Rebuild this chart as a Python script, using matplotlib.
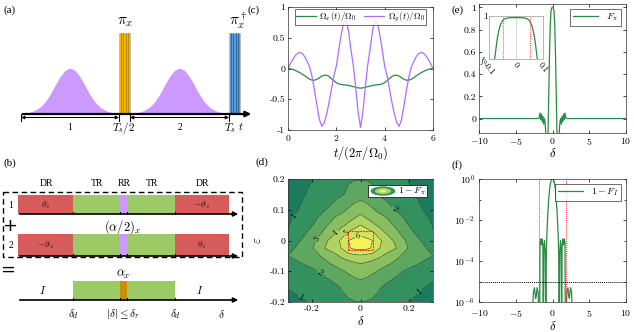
import numpy as np
import matplotlib
matplotlib.use('Agg')
import matplotlib.pyplot as plt
from matplotlib.patches import Rectangle, Ellipse

plt.rcParams['font.family'] = 'serif'
plt.rcParams['font.serif'] = ['cmr10', 'DejaVu Serif']
plt.rcParams['mathtext.fontset'] = 'cm'
plt.rcParams['axes.formatter.use_mathtext'] = True

# ---------------- data ----------------
# (c) control fields
t_grid = [0.0, 0.1, 0.2, 0.3, 0.4, 0.5, 0.6, 0.7, 0.8, 0.9, 1.0, 1.1, 1.2, 1.3, 1.4, 1.5,
          1.6, 1.7, 1.8, 1.9, 2.0, 2.1, 2.2, 2.3, 2.4, 2.5, 2.6, 2.7, 2.8, 2.9, 3.0,
          3.1, 3.2, 3.3, 3.4, 3.5, 3.6, 3.7, 3.8, 3.9, 4.0, 4.1, 4.2, 4.3, 4.4, 4.5,
          4.6, 4.7, 4.8, 4.9, 5.0, 5.1, 5.2, 5.3, 5.4, 5.5, 5.6, 5.7, 5.8, 5.9, 6.0]
omega_y = [0.0, 0.08, 0.15, 0.21, 0.25, 0.26, 0.24, 0.19, 0.11, 0.02, -0.14, -0.36, -0.6, -0.83, -0.94, -0.88,
           -0.74, -0.55, -0.33, -0.12, 0.04, 0.3, 0.55, 0.74, 0.78, 0.62, 0.32, 0.06, -0.3, -0.7, -0.96,
           -0.7, -0.3, 0.06, 0.32, 0.62, 0.78, 0.74, 0.55, 0.3, 0.04, -0.12, -0.33, -0.55, -0.74, -0.88,
           -0.94, -0.83, -0.6, -0.36, -0.14, 0.02, 0.11, 0.19, 0.24, 0.26, 0.25, 0.21, 0.15, 0.08, 0.0]
omega_x = [0.0, -0.005, -0.015, -0.03, -0.05, -0.07, -0.095, -0.12, -0.15, -0.175, -0.19, -0.19, -0.175, -0.15, -0.125, -0.11,
           -0.11, -0.13, -0.165, -0.2, -0.23, -0.25, -0.26, -0.265, -0.27, -0.275, -0.285, -0.295, -0.305, -0.315, -0.32,
           -0.315, -0.305, -0.295, -0.285, -0.275, -0.27, -0.265, -0.26, -0.25, -0.23, -0.2, -0.165, -0.13, -0.11, -0.11,
           -0.125, -0.15, -0.175, -0.19, -0.19, -0.175, -0.15, -0.12, -0.095, -0.07, -0.05, -0.03, -0.015, -0.005, 0.0]

# (e) F_pi versus detuning
fpi_delta = [-10, -2.0, -1.8, -1.7, -1.6, -1.5, -1.4, -1.3, -1.2, -1.1, -1.0, -0.9, -0.8, -0.7, -0.6, -0.5,
             -0.4, -0.3, -0.2, -0.1, 0.0, 0.1, 0.2, 0.3, 0.4, 0.5, 0.6, 0.7, 0.8, 0.9, 1.0, 1.1,
             1.2, 1.3, 1.4, 1.5, 1.6, 1.7, 1.8, 2.0, 10]
fpi_value = [0.0, 0.0, 0.005, 0.05, -0.01, 0.04, -0.03, 0.02, -0.05, 0.0, -0.04, -0.15, -0.3, -0.35, -0.1, 0.25,
             0.6, 0.85, 0.97, 0.995, 1.0, 0.995, 0.97, 0.85, 0.6, 0.25, -0.1, -0.35, -0.3, -0.15, -0.04, 0.0,
             -0.05, 0.02, -0.03, 0.04, -0.01, 0.05, 0.005, 0.0, 0.0]
inset_delta = [-0.085, -0.08, -0.075, -0.07, -0.065, -0.06, -0.055, -0.05, -0.045, -0.04, -0.03, -0.02, -0.01,
               0.0, 0.01, 0.02, 0.03, 0.04, 0.045, 0.05, 0.055, 0.06, 0.065, 0.07, 0.075, 0.08, 0.085]
inset_value = [0.9880, 0.9895, 0.9920, 0.9945, 0.9962, 0.9975, 0.9983, 0.9989, 0.9992, 0.9994, 0.99955, 0.9996,
               0.99962, 0.99962, 0.99962, 0.9996, 0.99955, 0.9994, 0.9992, 0.9989, 0.9983, 0.9975, 0.9962,
               0.9945, 0.9920, 0.9895, 0.9880]

# (f) 1 - F_I (log scale)
fi_delta = [-10, -2.85, -2.75, -2.6, -2.45, -2.3, -2.2, -2.1, -1.95, -1.85, -1.75, -1.7, -1.6, -1.5, -1.4,
            -1.3, -1.25, -1.2, -1.1, -1.0, -0.9, -0.85, -0.8, -0.7, -0.6, -0.5, -0.4, -0.3, -0.2, -0.1,
            0.0, 0.1, 0.2, 0.3, 0.4, 0.5, 0.6, 0.7, 0.8, 0.85, 0.9, 1.0, 1.1, 1.2, 1.25, 1.3, 1.4,
            1.5, 1.6, 1.7, 1.75, 1.85, 1.95, 2.1, 2.2, 2.3, 2.45, 2.6, 2.75, 2.85, 10]
fi_value = [1e-9, 1e-9, 1e-7, 3e-6, 5e-6, 1.5e-6, 2e-6, 5e-6, 3e-6, 1e-7, 1e-8, 8e-4, 1.2e-3, 6e-4, 1.2e-3,
            5e-4, 1e-8, 2e-4, 1e-3, 3e-4, 1e-8, 1e-4, 1e-3, 7e-3, 0.035, 0.12, 0.3, 0.55, 0.8, 0.95,
            1.0, 0.95, 0.8, 0.55, 0.3, 0.12, 0.035, 7e-3, 1e-3, 1e-4, 1e-8, 3e-4, 1e-3, 2e-4, 1e-8, 5e-4, 1.2e-3,
            6e-4, 1.2e-3, 8e-4, 1e-8, 1e-7, 3e-6, 5e-6, 2e-6, 1.5e-6, 5e-6, 3e-6, 1e-7, 1e-9, 1e-9]

# (d) -log10(1-F_pi) over (delta, epsilon), rows = eps from -0.2 to 0.2
map_delta = [-0.3, -0.25, -0.2, -0.15, -0.1, -0.075, -0.05, -0.025, 0.0,
             0.025, 0.05, 0.075, 0.1, 0.15, 0.2, 0.25, 0.3]
map_eps = [-0.2, -0.15, -0.1, -0.075, -0.05, -0.025, 0.0, 0.025, 0.05, 0.075, 0.1, 0.15, 0.2]
map_level = [
    [0.60, 0.85, 1.10, 1.40, 1.65, 1.80, 1.90, 1.97, 2.00, 1.97, 1.90, 1.80, 1.65, 1.35, 1.00, 0.75, 0.55],
    [1.10, 1.30, 1.40, 1.60, 1.90, 2.10, 2.30, 2.50, 2.63, 2.50, 2.30, 2.10, 1.90, 1.60, 1.35, 1.10, 0.85],
    [1.50, 1.60, 1.80, 2.20, 2.65, 2.93, 3.15, 3.35, 3.45, 3.35, 3.15, 2.93, 2.65, 2.20, 1.80, 1.55, 1.35],
    [1.80, 1.95, 2.30, 2.75, 3.25, 3.45, 3.65, 3.85, 4.00, 3.85, 3.65, 3.45, 3.25, 2.75, 2.30, 1.95, 1.75],
    [2.00, 2.30, 2.60, 3.20, 3.85, 4.25, 4.55, 4.75, 4.85, 4.75, 4.55, 4.25, 3.85, 3.20, 2.60, 2.30, 2.00],
    [1.65, 2.30, 2.92, 3.98, 4.60, 5.10, 5.90, 6.20, 6.30, 6.20, 5.90, 5.10, 4.60, 3.98, 2.92, 2.30, 1.65],
    [1.30, 1.98, 2.73, 3.68, 4.75, 5.25, 6.00, 6.25, 6.40, 6.25, 6.00, 5.25, 4.75, 3.68, 2.73, 1.98, 1.25],
    [1.00, 1.60, 2.35, 3.18, 4.05, 4.60, 5.15, 5.50, 5.70, 5.50, 5.15, 4.60, 4.05, 3.18, 2.35, 1.60, 1.02],
    [0.95, 1.45, 1.97, 2.80, 3.51, 3.84, 4.20, 4.60, 5.00, 4.60, 4.20, 3.84, 3.51, 2.80, 1.97, 1.45, 0.97],
    [0.85, 1.25, 1.70, 2.34, 3.10, 3.37, 3.65, 3.92, 4.30, 3.92, 3.65, 3.37, 3.10, 2.34, 1.70, 1.25, 0.85],
    [0.75, 1.05, 1.50, 1.93, 2.50, 2.75, 3.10, 3.40, 3.60, 3.40, 3.10, 2.75, 2.50, 1.93, 1.50, 1.05, 0.75],
    [0.65, 0.88, 1.15, 1.45, 1.77, 1.93, 2.20, 2.50, 2.60, 2.50, 2.20, 1.93, 1.77, 1.45, 1.15, 0.87, 0.65],
    [0.55, 0.75, 1.00, 1.40, 1.72, 1.83, 1.90, 1.94, 1.95, 1.94, 1.90, 1.83, 1.72, 1.40, 0.95, 0.72, 0.50],
]
map_levels = [0, 1, 2, 3, 4, 5, 6, 7]

# (a) pulse envelope (relative height vs offset in px from centre)
pulse_offset = [0, 5, 10, 15, 20, 25, 30, 35, 40, 45, 49]
pulse_height = [1.0, 0.95, 0.81, 0.62, 0.42, 0.26, 0.15, 0.08, 0.04, 0.015, 0.0]

# ---------------- figure ----------------
W, H = 634, 332
fig = plt.figure(figsize=(W / 100, H / 100), dpi=100)

GREEN = '#2b8a43'
PURPLE = '#b26bff'
SERIF = 'Liberation Serif'


def style_axes(ax):
    ax.tick_params(direction='in', length=2.5, width=0.5, labelsize=7, pad=2,
                   top=True, right=True)
    for s in ax.spines.values():
        s.set_linewidth(0.5)
        s.set_color('#333333')


def box(x0, y0, x1, y1):
    return [x0 / W, 1 - y1 / H, (x1 - x0) / W, (y1 - y0) / H]


# schematic canvas in pixel units
sk = fig.add_axes([0, 0, 1, 1])
sk.set_xlim(0, W)
sk.set_ylim(H, 0)
sk.axis('off')

# ---- (a) ----
y0 = 114
off = np.array(pulse_offset, dtype=float)
hgt = np.array(pulse_height)
for c in (70, 179.5):
    xs = np.concatenate([c - off[::-1], c + off[1:]])
    ys = np.concatenate([hgt[::-1], hgt[1:]])
    sk.fill_between(xs, y0, y0 - 46 * ys, color='#cc99ff', lw=0)
for x0, face, stripe in ((119, '#f4b400', '#a87a00'), (229, '#5b9bd5', '#25578f')):
    sk.add_patch(Rectangle((x0, 33), 11, y0 - 33, facecolor=face, edgecolor='#bbbbbb', lw=0.6))
    for dx in (2.2, 4.4, 6.6, 8.8):
        sk.plot([x0 + dx, x0 + dx], [33, y0], color=stripe, lw=0.5)
sk.annotate('', xy=(254, y0), xytext=(20, y0),
            arrowprops=dict(arrowstyle='-|>', lw=1.6, color='black', mutation_scale=8))
for xa, xb in ((21, 119), (130, 229)):
    sk.annotate('', xy=(xb, 117.5), xytext=(xa, 117.5),
                arrowprops=dict(arrowstyle='<|-|>', lw=0.7, color='black', mutation_scale=5,
                                shrinkA=0, shrinkB=0))
    sk.plot([xa, xa], [114, 121], color='black', lw=0.8)
    sk.plot([xb, xb], [114, 121], color='black', lw=0.8)
sk.text(70, 128, '1', fontsize=7, ha='center', va='center', family=SERIF)
sk.text(179.5, 128, '2', fontsize=7, ha='center', va='center', family=SERIF)
sk.text(124, 128, r'$T_s/2$', fontsize=8, ha='center', va='center')
sk.text(230, 128, r'$T_s$', fontsize=8, ha='center', va='center')
sk.text(241, 126, r'$t$', fontsize=8, ha='center', va='center')
sk.text(125, 22, r'$\pi_x$', fontsize=11, ha='center', va='center')
sk.text(238, 21, r'$\pi_x^\dagger$', fontsize=11, ha='center', va='center')
sk.text(4, 10, '(a)', fontsize=8, va='center', family=SERIF)
sk.text(247, 10, '(c)', fontsize=8, va='center', family=SERIF)
sk.text(452, 10, '(e)', fontsize=8, va='center', family=SERIF)
sk.text(255, 162, '(d)', fontsize=8, va='center', family=SERIF)
sk.text(452, 165, '(f)', fontsize=8, va='center', family=SERIF)

# ---- (b) ----
RED, LGREEN, LPURP, ORANGE = '#d65c5c', '#9ccb66', '#cc99ff', '#c8900a'
edges = [18, 73, 120, 127, 175, 229]
sk.text(4, 163, '(b)', fontsize=8, va='center', family=SERIF)
for xc, lab in ((46, 'DR'), (97, 'TR'), (124, 'RR'), (152, 'TR'), (202, 'DR')):
    sk.text(xc, 184, lab, fontsize=7, ha='center', va='center', family=SERIF)
sk.add_patch(Rectangle((3, 192), 239, 65, fill=False, ls=(0, (4, 2.5)), lw=1.0, ec='black'))


def bar_row(ytop, ybot, colors):
    for (xa, xb), col in zip(zip(edges[:-1], edges[1:]), colors):
        if col is not None:
            sk.add_patch(Rectangle((xa, ytop), xb - xa, ybot - ytop, facecolor=col, lw=0))
    sk.annotate('', xy=(241, ybot), xytext=(17, ybot),
                arrowprops=dict(arrowstyle='-|>', lw=1.2, color='black', mutation_scale=7))
    for xe in edges[1:-1]:
        sk.plot([xe, xe], [ybot - 2.5, ybot], color='black', lw=0.8)


bar_row(195, 214, [RED, LGREEN, LPURP, LGREEN, RED])
bar_row(234, 256, [RED, LGREEN, LPURP, LGREEN, RED])
bar_row(281, 300, [None, LGREEN, ORANGE, LGREEN, None])
sk.text(46, 205, r'$\theta_z$', fontsize=7, ha='center', va='center', color='#3a1010')
sk.text(202, 205, r'$-\theta_z$', fontsize=7, ha='center', va='center', color='#3a1010')
sk.text(46, 245, r'$-\theta_z$', fontsize=7, ha='center', va='center', color='#3a1010')
sk.text(202, 245, r'$\theta_z$', fontsize=7, ha='center', va='center', color='#3a1010')
sk.text(11, 205, '1', fontsize=7, ha='center', va='center', family=SERIF)
sk.text(11, 245, '2', fontsize=7, ha='center', va='center', family=SERIF)
sk.text(10, 226, '+', fontsize=13, ha='center', va='center', family='DejaVu Sans')
sk.text(8, 270, '=', fontsize=13, ha='center', va='center', family='DejaVu Sans')
sk.text(123, 227, r'$(\alpha/2)_x$', fontsize=9, ha='center', va='center')
sk.text(123, 274, r'$\alpha_x$', fontsize=9, ha='center', va='center')
sk.text(43, 290, r'$I$', fontsize=8, ha='center', va='center')
sk.text(200, 290, r'$I$', fontsize=8, ha='center', va='center')
for xc, lab in ((73, r'$\delta_d$'), (123, r'$|\delta|\leq\delta_r$'), (175, r'$\delta_d$'), (222, r'$\delta$')):
    sk.text(xc, 314, lab, fontsize=8, ha='center', va='center')

# ---- (c) ----
axc = fig.add_axes(box(288, 7, 433, 130))
axc.plot(t_grid, omega_x, color=GREEN, lw=0.9, label=r'$\Omega_x(t)/\Omega_0$')
axc.plot(t_grid, omega_y, color=PURPLE, lw=0.9, label=r'$\Omega_y(t)/\Omega_0$')
axc.set_xlim(0, 6)
axc.set_ylim(-1, 1)
axc.set_xticks([0, 2, 4, 6])
axc.set_yticks([-1, -0.5, 0, 0.5, 1])
axc.set_yticklabels(['-1', '-0.5', '0', '0.5', '1'])
axc.set_xlabel(r'$t/(2\pi/\Omega_0)$', fontsize=9, labelpad=1)
style_axes(axc)
axc.legend(loc='upper center', ncol=2, fontsize=6.5, frameon=True, fancybox=False,
           edgecolor='black', handlelength=2.2, columnspacing=0.8, borderpad=0.15,
           handletextpad=0.4, bbox_to_anchor=(0.5, 1.02)).get_frame().set_linewidth(0.5)

# ---- (e) ----
axe = fig.add_axes(box(479, 4, 626, 133))
axe.plot(fpi_delta, fpi_value, color=GREEN, lw=0.9, label=r'$F_\pi$')
axe.set_xlim(-10, 10)
axe.set_ylim(-0.13, 1.03)
axe.set_xticks([-10, -5, 0, 5, 10])
axe.set_yticks([0, 0.2, 0.4, 0.6, 0.8, 1])
axe.set_yticklabels(['0', '0.2', '0.4', '0.6', '0.8', '1'])
axe.set_xlabel(r'$\delta$', fontsize=9, labelpad=0)
style_axes(axe)
axe.legend(loc='upper right', fontsize=7, fancybox=False, edgecolor='black',
           handlelength=2.6, borderpad=0.3).get_frame().set_linewidth(0.5)

ins = fig.add_axes(box(489, 16, 543, 59))
ins.plot(inset_delta, inset_value, color=GREEN, lw=0.9)
ins.axvline(0, color='#d0d0d0', lw=0.6, zorder=0)
for xv in (-0.05, 0.05):
    ins.axvline(xv, color='#ff5555', lw=0.8, ls=(0, (1, 1)))
ins.set_xlim(-0.1, 0.1)
ins.set_ylim(0.99, 1.0)
ins.set_xticks([-0.1, 0, 0.1])
ins.set_xticklabels(['-0.1', '0', '0.1'], rotation=-50, fontsize=6)
ins.set_yticks([0.99, 1.0])
ins.set_yticklabels([r'$f_b$', '1'], fontsize=6.5)
ins.tick_params(direction='in', length=0, pad=1)
for s in ins.spines.values():
    s.set_linewidth(0.6)
    s.set_color('#aaaaaa')

# ---- (d) ----
axd = fig.add_axes(box(288, 179, 433, 302))
cmap_cols = ['#1c7a5d', '#33905f', '#5ea760', '#88be62', '#afd360', '#d5e55a', '#f4f45a']
Z = np.array(map_level)
axd.contourf(map_delta, map_eps, Z, levels=map_levels, colors=cmap_cols)
cs = axd.contour(map_delta, map_eps, Z, levels=map_levels[1:7], colors='#253d30', linewidths=0.4)
axd.clabel(cs, fontsize=6, inline=True, fmt='%d', colors='black', inline_spacing=1,
           manual=[(-0.264, 0.072), (-0.243, -0.177), (0.25, -0.172), (0.136, 0.1),
                   (-0.168, -0.101), (-0.172, 0.0), (-0.1, 0.023), (-0.064, 0.029),
                   (-0.009, 0.012)])
axd.add_patch(Rectangle((-0.05, -0.03), 0.1, 0.06, fill=False, ec='#e82020', lw=0.8, ls=(0, (1.5, 1))))
axd.set_xlim(-0.3, 0.3)
axd.set_ylim(-0.2, 0.2)
axd.set_xticks([-0.2, 0, 0.2])
axd.set_yticks([-0.2, -0.1, 0, 0.1, 0.2])
axd.set_xticklabels(['-0.2', '0', '0.2'])
axd.set_yticklabels(['-0.2', '-0.1', '0', '0.1', '0.2'])
axd.set_xlabel(r'$\delta$', fontsize=9, labelpad=1)
axd.set_ylabel(r'$\varepsilon$', fontsize=9, labelpad=4)
style_axes(axd)
# contour legend
axd.add_patch(Rectangle((0.552, 0.854), 0.407, 0.097, transform=axd.transAxes,
                        facecolor='white', edgecolor='black', lw=0.5, zorder=5))
for wd, col in ((0.17, cmap_cols[1]), (0.11, cmap_cols[4]), (0.05, cmap_cols[6])):
    axd.add_patch(Ellipse((0.655, 0.902), wd, wd * 0.45, transform=axd.transAxes,
                          facecolor=col, edgecolor='none', zorder=6))
axd.text(0.76, 0.902, r'$1-F_\pi$', transform=axd.transAxes, fontsize=7, va='center', zorder=7)

# ---- (f) ----
axf = fig.add_axes(box(479, 179, 626, 302))
axf.semilogy(fi_delta, fi_value, color=GREEN, lw=0.9, label=r'$1-F_I$')
for xv in (-1.78, 1.78):
    axf.axvline(xv, color='#ff3030', lw=0.7, ls=(0, (1, 1)))
axf.axhline(1e-5, color='black', lw=0.7, ls=(0, (1, 1)))
axf.set_xlim(-10, 10)
axf.set_ylim(1e-6, 1.0)
axf.set_xticks([-10, -5, 0, 5, 10])
axf.set_yticks([1e0, 1e-2, 1e-4, 1e-6])
axf.set_yticks([1e-1, 1e-3, 1e-5], minor=True)
axf.set_yticklabels([r'$10^{0}$', r'$10^{-2}$', r'$10^{-4}$', r'$10^{-6}$'])
axf.yaxis.set_minor_formatter(matplotlib.ticker.NullFormatter())
axf.set_xlabel(r'$\delta$', fontsize=9, labelpad=1)
style_axes(axf)
axf.tick_params(which='minor', direction='in', length=1.5, width=0.5, right=True)
axf.tick_params(axis='x', pad=4)
axf.tick_params(axis='y', pad=3)
axf.legend(loc='upper right', fontsize=7, fancybox=False, edgecolor='black',
           handlelength=2.6, borderpad=0.3).get_frame().set_linewidth(0.5)

fig.savefig('out.png', dpi=100)
